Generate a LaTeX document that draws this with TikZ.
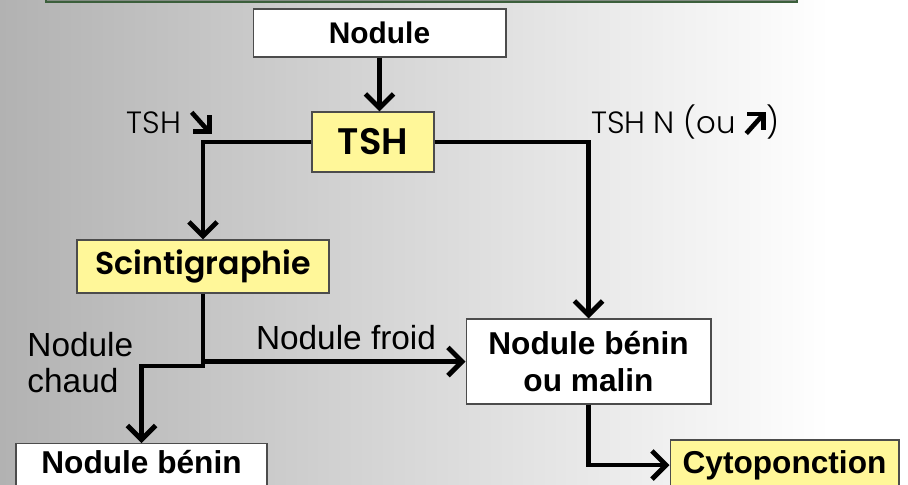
\documentclass[tikz,border=0pt]{standalone}
\usepackage{fontspec}
\setmainfont{Poppins}[BoldFont={Poppins SemiBold}]
\newfontfamily\lightfont{Poppins Light}
\newfontfamily\arialfont{Liberation Sans}
\usetikzlibrary{arrows.meta,positioning}
\definecolor{hiyellow}{RGB}{255,247,153}
\definecolor{bggray}{RGB}{178,178,178}
\definecolor{barfill}{RGB}{130,140,130}
\definecolor{bargreen}{RGB}{60,95,60}
\tikzstyle{arrow} = [-{Straight Barb[length=8pt,width=16pt]}]
\tikzstyle{box} = [draw=gray!60!black, line width=0.6pt, fill=white, inner sep=0pt]
\tikzstyle{hbox} = [box, fill=hiyellow]
% heavy little arrows for the TSH labels
\newcommand{\thickse}{\tikz[baseline=0pt, x=1em, y=1em, line width=0.15em, line join=miter]{\draw (0.05,0.68) -- (0.55,0.12); \draw (0.62,0.58) -- (0.62,0.05) -- (0.09,0.05);}}
\newcommand{\thickne}{\tikz[baseline=0pt, x=1em, y=1em, line width=0.15em, line join=miter]{\draw (0.05,0.0) -- (0.55,0.56); \draw (0.09,0.63) -- (0.62,0.63) -- (0.62,0.1);}}

\begin{document}
\begin{tikzpicture}[x=0.02cm, y=-0.02cm, line width=2.8pt]
		\useasboundingbox (0,0) rectangle (908,484);
		\clip (0,0) rectangle (908,484);
		\shade [left color=bggray, right color=white] (0,0) rectangle (830,484);
		\fill [white] (830,0) rectangle (908,484);
		\filldraw [fill=barfill, draw=bargreen, line width=1pt] (46,-10) rectangle (797,2);

		\node (nodule) [box, minimum width=5.06cm, minimum height=0.96cm, font=\arialfont\bfseries\fontsize{17}{20}\selectfont] at (379.5,33) {Nodule};
		\node (tsh) [hbox, minimum width=2.44cm, minimum height=1.2cm, font=\bfseries\fontsize{21}{24}\selectfont] at (373,142) {TSH};
		\node (scinti) [hbox, minimum width=5.04cm, minimum height=1.06cm, font=\bfseries\fontsize{18}{21}\selectfont] at (203,266.5) {Scintigraphie};
		\node (malin) [box, minimum width=4.9cm, minimum height=1.7cm, align=center, font=\arialfont\bfseries\fontsize{18}{21}\selectfont] at (588.5,361.5) {Nodule bénin\\ou malin};
		\node (benin) [box, anchor=north, minimum width=5.02cm, text depth=0.9cm, inner ysep=4pt, font=\arialfont\bfseries\fontsize{18}{21}\selectfont] at (141.5,443) {Nodule bénin};
		\node (cyto) [hbox, minimum width=4.58cm, minimum height=1cm, font=\arialfont\bfseries\fontsize{18}{21}\selectfont] at (784.5,465) {Cytoponction};

		\node (lowlbl) [font=\lightfont\fontsize{17.5}{20}\selectfont] at (169,122) {TSH \thickse};
		\node (normlbl) [font=\lightfont\fontsize{17.5}{20}\selectfont] at (685,122) {TSH N (ou \thickne)};
		\node (chaudlbl) [anchor=west, align=left, inner sep=0pt, font=\arialfont\fontsize{19}{20.5}\selectfont] at (25,363) {Nodule\\chaud};
		\node (froidlbl) [font=\arialfont\fontsize{19}{21}\selectfont] at (346,338) {Nodule froid};

		\coordinate (froid) at (scinti.south |- malin.west);
		\coordinate (chaud) at (scinti.south |- 0,366);

		\draw [arrow] (nodule.south) -- (nodule.south |- tsh.north);
		\draw [arrow] (tsh.west) -| (scinti.north);
		\draw [arrow] (tsh.east) -| (malin.north);
		\draw [arrow] (scinti.south) -- (froid) -- (malin.west);
		\draw [arrow] (froid) -- (chaud) -| (benin.north);
		\draw [arrow] (malin.south) |- (cyto.west);
	\end{tikzpicture}
\end{document}
